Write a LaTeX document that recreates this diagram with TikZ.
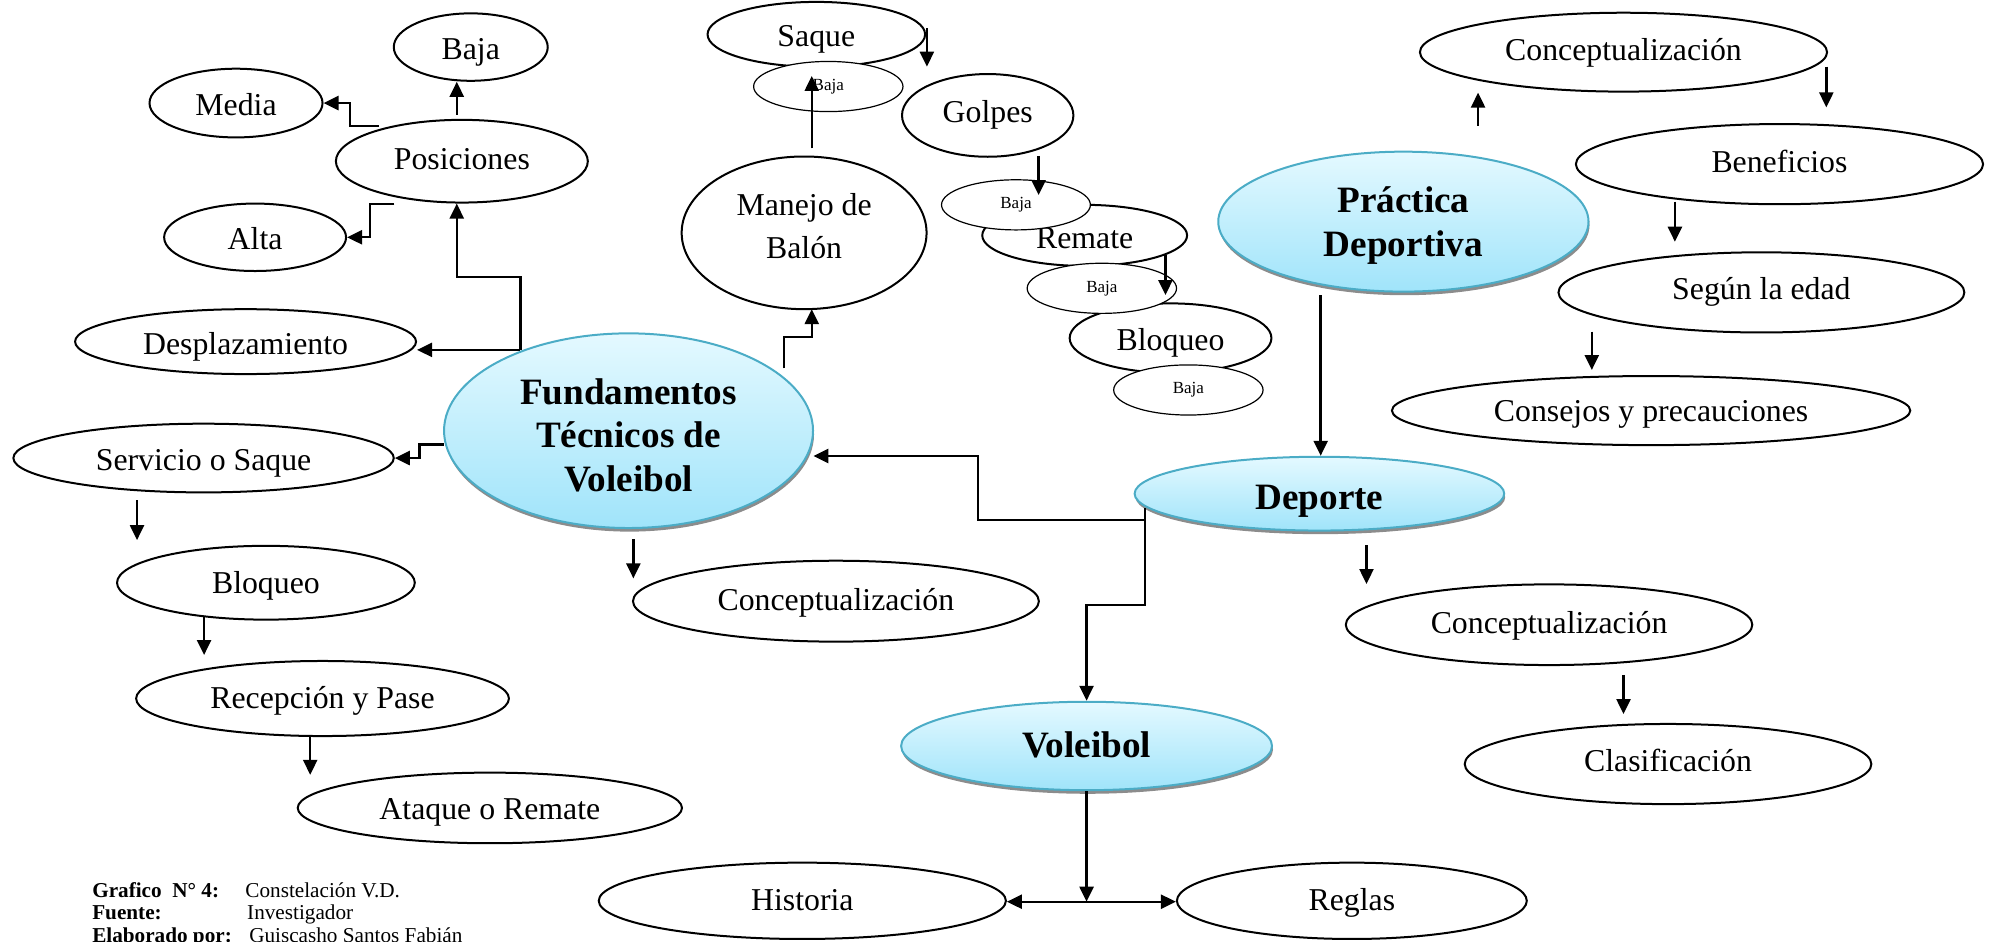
\documentclass[tikz,border=0pt]{standalone}
\usepackage{fontspec}
\setmainfont{Liberation Serif}
\usetikzlibrary{shapes.geometric,arrows.meta,shadows,calc}
\def\U{0.6362pt}
\definecolor{bluetop}{RGB}{228,249,255}
\definecolor{bluebot}{RGB}{160,228,250}
\definecolor{blueline}{RGB}{75,172,198}
\tikzset{
  box/.style={ellipse, draw=black, line width=1pt, fill=white, inner sep=0pt,
    font=\fontsize{15.9}{21.6}\selectfont, align=center},
  sz/.style 2 args={minimum width=#1*\U, minimum height=#2*\U},
  bl/.style={text height=#1, text depth=0pt},
  hub/.style={ellipse, draw=blueline, line width=1pt, top color=bluetop, bottom color=bluebot,
    drop shadow={shadow xshift=0.5pt, shadow yshift=-1.8pt, fill=black!45, opacity=1},
    inner sep=0pt, font=\fontsize{18.6}{21.6}\selectfont\bfseries, align=center},
  bajabox/.style={ellipse, draw=black, line width=0.6pt, fill=white, inner sep=0pt,
    font=\fontsize{8.5}{10}\selectfont, text height=4pt, text depth=0pt},
  arr/.style={-{Triangle[width=7pt,length=7.5pt]}, line width=1.2pt},
  darr/.style={{Triangle[width=7pt,length=7.5pt]}-{Triangle[width=7pt,length=7.5pt]}, line width=1.2pt},
  foot/.style={anchor=base west, inner sep=0pt, font=\fontsize{10.6}{11.5}\selectfont}
}
\begin{document}
\begin{tikzpicture}[x=0.6362pt, y=-0.6362pt]
\useasboundingbox (0,0) rectangle (1568,740);

% ---------- left cluster ----------
\node[box, sz={121}{53}, bl=12.2pt] (bajaP) at (370,37) {Baja};
\node[box, sz={136}{54}, bl=12.0pt] (media) at (185.5,81) {Media};
\node[box, sz={198}{65}, bl=8.4pt] (pos) at (363,126.7) {Posiciones};
\node[box, sz={143}{53}, bl=12.1pt] (alta) at (200.5,186.5) {Alta};
\node[box, sz={268}{51}, bl=13.3pt] (desp) at (193,268.5) {Desplazamiento};
\node[box, sz={299}{54}, bl=12.0pt] (serv) at (160,360) {Servicio o Saque};
\node[box, sz={234}{58}, bl=10.6pt] (bloqL) at (209,458) {Bloqueo};
\node[box, sz={293}{59}, bl=9.8pt] (recep) at (253.5,549) {Recepción y Pase};
\node[box, sz={302}{55.5}, bl=11.5pt] (ataque) at (385,635) {Ataque o Remate};
\node[box, sz={319}{63.6}, bl=8.9pt] (concM) at (657,472.5) {Conceptualización};

% ---------- top middle ----------
\node[box, sz={171}{51}, bl=12.3pt] (saque) at (641.6,27) {Saque};
\node[bajabox, sz={117.4}{39.4}] (bajaS) at (651,68) {Baja};
\node[box, sz={192.5}{120}, bl=25.4pt] (manejo) at (632,183) {Manejo de\\Balón};
\node[box, sz={134.7}{65}, bl=7.3pt] (golpes) at (776.3,90.7) {Golpes};
\node[box, sz={161}{48}, bl=13pt] (remate) at (852.5,185) {Remate};
\node[bajabox, sz={117}{39.4}] (bajaR) at (798.5,161) {Baja};
\node[box, sz={158.6}{54.5}, bl=12.6pt] (bloqM) at (920,265.7) {Bloqueo};
\node[bajabox, sz={117.4}{39.4}] (bajaR2) at (866,226.6) {Baja};
\node[bajabox, sz={117.4}{39.4}] (bajaB) at (934,306.5) {Baja};

% ---------- right cluster ----------
\node[box, sz={320}{62}, bl=8.5pt] (concT) at (1276,41) {Conceptualización};
\node[box, sz={320}{63}, bl=8.5pt] (benef) at (1398.6,129) {Beneficios};
\node[box, sz={319}{63}, bl=7.6pt] (segun) at (1384.4,229.8) {Según la edad};
\node[box, sz={407.4}{54.3}, bl=11.1pt] (consejos) at (1297.7,322.7) {Consejos y precauciones};
\node[box, sz={319.5}{63.4}, bl=8.7pt] (concR) at (1217.5,491) {Conceptualización};
\node[box, sz={319.6}{63}, bl=7.6pt] (clasif) at (1311,600.5) {Clasificación};

% ---------- bottom ----------
\node[box, sz={320}{60}, bl=9.2pt] (hist) at (630.6,708) {Historia};
\node[box, sz={275}{60}, bl=9.2pt] (reglas) at (1062.5,708) {Reglas};

% ---------- hubs ----------
\node[hub, sz={290}{153}, bl=60.5pt] (fund) at (494,338.5) {Fundamentos\\Técnicos de\\Voleibol};
\node[hub, sz={291}{110}, bl=34.5pt] (prac) at (1103,174.2) {Práctica\\Deportiva};
\node[hub, sz={290.5}{58}, bl=16pt] (dep) at (1037,388) {Deporte};
\node[hub, sz={291.5}{69.5}, bl=11.5pt] (volei) at (854,586.3) {Voleibol};

% ---------- coordinates ----------
\coordinate (p1) at (359,90);
\coordinate (p2) at (298,99);
\coordinate (p3) at (310,160.4);
\coordinate (f1) at (409,275);
\coordinate (f2) at (616,289.5);
\coordinate (m1) at (638,243);
\coordinate (m2) at (638,116.6);
\coordinate (s1) at (638,59.7);
\coordinate (q1) at (728.5,22.3);
\coordinate (q2) at (728.5,52.4);
\coordinate (g1) at (816.3,122.6);
\coordinate (g2) at (816.3,153.3);
\coordinate (r1) at (916,200.4);
\coordinate (r2) at (916,231.9);
\coordinate (f3) at (349,349.2);
\coordinate (l1) at (107.7,393);
\coordinate (l2) at (107.7,424.5);
\coordinate (l3) at (160.4,484.7);
\coordinate (l4) at (160.4,514.8);
\coordinate (l5) at (243.8,579);
\coordinate (l6) at (243.8,609);
\coordinate (c1) at (497.8,424);
\coordinate (c2) at (497.8,454.6);
\coordinate (d1) at (900,399.5);
\coordinate (fe) at (639.3,358.4);
\coordinate (jn) at (854,708.7);
\coordinate (pr1) at (1038,231.9);
\coordinate (t1) at (1161.7,99);
\coordinate (t2) at (1161.7,72.8);
\coordinate (t3) at (1435.4,52.4);
\coordinate (t4) at (1435.4,84.4);
\coordinate (t5) at (1316.4,158.5);
\coordinate (t6) at (1316.4,190);
\coordinate (t7) at (1251.1,260.7);
\coordinate (t8) at (1251.1,290.8);
\coordinate (k1) at (1074,428.4);
\coordinate (k2) at (1074,459);
\coordinate (k3) at (1276,530.5);
\coordinate (k4) at (1276,561.2);

% ---------- connectors ----------
\draw[arr] (p1) -- (p1 |- bajaP.south);
\draw[arr] (p2) -- ++(-23,0) |- (media.east);
\draw[arr] (p3) -- ++(-19.4,0) |- (alta.east);
\draw[arr] (f1) -- ++(0,-57.5) -| ($(pos.south)+(-4,0)$);
\draw[arr] (f1) -- (f1 -| desp.east);
\draw[arr] (f2) -- ++(0,-24.5) -| (m1);
\draw[arr] (m2) -- (s1);
\draw[arr] (q1) -- (q2);
\draw[arr] (g1) -- (g2);
\draw[arr] (r1) -- (r2);
\draw[arr] (f3) -- ++(-19.2,0) |- (serv.east);
\draw[arr] (l1) -- (l2);
\draw[arr] (l3) -- (l4);
\draw[arr] (l5) -- (l6);
\draw[arr] (c1) -- (c2);
\draw[arr] (d1) -- ++(0,9.2) -| (768.8,358.4) -- (fe);
\draw[arr] (d1) -- ++(0,76) -| (volei.north);
\draw[arr] (volei.south) -- (jn);
\draw[darr] (hist.east |- jn) -- (reglas.west |- jn);
\draw[arr] (pr1) -- (pr1 |- dep.north);
\draw[arr] (t1) -- (t2);
\draw[arr] (t3) -- (t4);
\draw[arr] (t5) -- (t6);
\draw[arr] (t7) -- (t8);
\draw[arr] (k1) -- (k2);
\draw[arr] (k3) -- (k4);

% ---------- footer ----------
\node[foot, font=\fontsize{10.6}{11.5}\selectfont\bfseries] (g1lab) at (72.2,705) {Grafico~~N° 4:};
\node[foot] (g1val) at (192.6,705) {Constelación V.D.};
\node[foot, font=\fontsize{10.6}{11.5}\selectfont\bfseries] (g2lab) at (72.2,723) {Fuente:};
\node[foot] (g2val) at (194,723) {Investigador};
\node[foot, font=\fontsize{10.6}{11.5}\selectfont\bfseries] (g3lab) at (72.2,741) {Elaborado por:};
\node[foot] (g3val) at (195.6,741) {Guiscasho Santos Fabián};
\end{tikzpicture}
\end{document}
